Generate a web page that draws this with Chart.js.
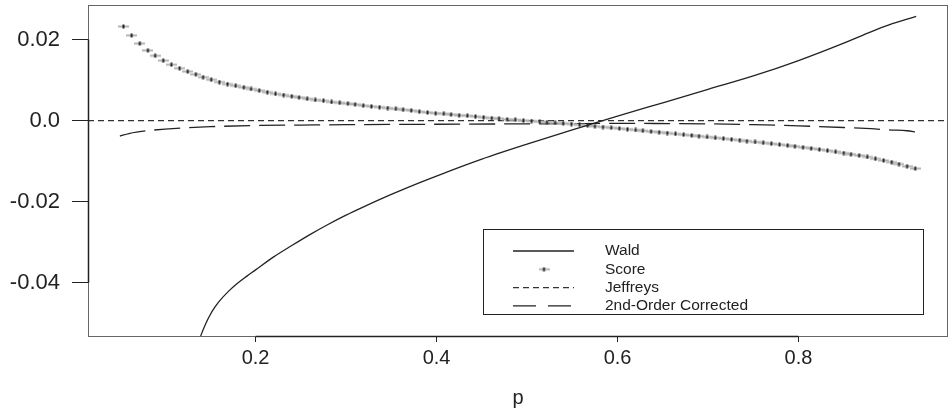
<!DOCTYPE html>
<html>
<head>
<meta charset="utf-8">
<script src="https://cdn.jsdelivr.net/npm/chart.js@4.4.1/dist/chart.umd.min.js"></script>
<style>
  body { margin: 0; background: #fff; overflow: hidden; }
</style>
</head>
<body>
<canvas id="biasChart" width="953" height="410"></canvas>
<script>
// axis range (R style, 4% extension of the data range)
const xMin = 0.0148, xMax = 0.9652;
const yMin = -0.0531, yMax = 0.0285;
const xTicks = [0.2, 0.4, 0.6, 0.8];
const yTicks = [-0.04, -0.02, 0.0, 0.02];
const yTickLabels = ['-0.04', '-0.02', '0.0', '0.02'];

const waldP = [0.13, 0.135, 0.14, 0.145, 0.15, 0.155, 0.16, 0.17, 0.18, 0.19, 0.20, 0.22, 0.24, 0.26, 0.28,
    0.30, 0.32, 0.35, 0.38, 0.41, 0.45, 0.50, 0.55, 0.60, 0.65, 0.70, 0.75, 0.80, 0.85, 0.88, 0.90, 0.93];
const waldBias = [-0.0597, -0.0560, -0.0527, -0.0500, -0.0478, -0.0460, -0.0445, -0.0421, -0.0401,
    -0.0384, -0.0368, -0.0336, -0.0308, -0.0281, -0.0256, -0.0233, -0.0212, -0.0182, -0.0154, -0.0128,
    -0.0095, -0.0058, -0.0023, 0.0011, 0.0044, 0.0077, 0.0110, 0.0148, 0.0191, 0.0219, 0.0236, 0.0257];

const scoreP = [0.054, 0.063, 0.072, 0.081, 0.089, 0.098, 0.107, 0.116, 0.125, 0.134,
    0.142, 0.151, 0.160, 0.169, 0.178, 0.187, 0.195, 0.204, 0.213, 0.222,
    0.231, 0.240, 0.248, 0.257, 0.266, 0.275, 0.284, 0.293, 0.302, 0.310,
    0.319, 0.328, 0.337, 0.346, 0.355, 0.363, 0.372, 0.381, 0.390, 0.399,
    0.408, 0.416, 0.425, 0.434, 0.443, 0.452, 0.461, 0.469, 0.478, 0.487,
    0.496, 0.505, 0.514, 0.522, 0.531, 0.540, 0.549, 0.558, 0.567, 0.575,
    0.584, 0.593, 0.602, 0.611, 0.620, 0.628, 0.637, 0.646, 0.655, 0.664,
    0.673, 0.682, 0.690, 0.699, 0.708, 0.717, 0.726, 0.735, 0.743, 0.752,
    0.761, 0.770, 0.779, 0.788, 0.796, 0.805, 0.814, 0.823, 0.832, 0.841,
    0.850, 0.858, 0.867, 0.876, 0.885, 0.894, 0.903, 0.911, 0.920, 0.929];
const scoreBias = [0.0232, 0.0210, 0.0190, 0.0173, 0.0160, 0.0148, 0.0138, 0.0129, 0.0121, 0.0114,
    0.0107, 0.0101, 0.0095, 0.0090, 0.0086, 0.0082, 0.0078, 0.0074, 0.0070, 0.0066,
    0.0063, 0.0060, 0.0057, 0.0054, 0.0051, 0.0049, 0.0046, 0.0044, 0.0042, 0.0040,
    0.0037, 0.0035, 0.0033, 0.0031, 0.0029, 0.0027, 0.0025, 0.0022, 0.0020, 0.0018,
    0.0017, 0.0015, 0.0013, 0.0012, 0.0010, 0.0008, 0.0006, 0.0005, 0.0003, 0.0002,
    0.00002, -0.00011, -0.00026, -0.0004, -0.00054, -0.00068, -0.00085, -0.00103, -0.00121, -0.0014,
    -0.00158, -0.00176, -0.00194, -0.00213, -0.00231, -0.0025, -0.00269, -0.00288, -0.00307, -0.00326,
    -0.00346, -0.00365, -0.00384, -0.00404, -0.00423, -0.00442, -0.00462, -0.00483, -0.00505, -0.00526,
    -0.00547, -0.00569, -0.0059, -0.00612, -0.00634, -0.00659, -0.00685, -0.00712, -0.00739, -0.00768,
    -0.00799, -0.0083, -0.0086, -0.00895, -0.00939, -0.00982, -0.01026, -0.01072, -0.01127, -0.01181];

const jeffreysP = [xMin, xMax];
const jeffreysBias = [0, 0];

const corrP = [0.05, 0.06, 0.07, 0.08, 0.10, 0.12, 0.15, 0.20, 0.25, 0.30, 0.40, 0.50, 0.60,
    0.70, 0.75, 0.80, 0.85, 0.88, 0.90, 0.92, 0.93];
const corrBias = [-0.0038, -0.0032, -0.0028, -0.0025, -0.0021, -0.0018, -0.0015, -0.0012, -0.0011,
    -0.0010, -0.0009, -0.0008, -0.0007, -0.0008, -0.0010, -0.0013, -0.0017, -0.0020, -0.0023,
    -0.0025, -0.0028];

const toPoints = (xs, ys) => xs.map((x, i) => ({ x: x, y: ys[i] }));

// score marker: grey horizontal bar with a dark tick in the middle
const scoreMark = document.createElement('canvas');
scoreMark.width = 11;
scoreMark.height = 5;
const mctx = scoreMark.getContext('2d');
mctx.fillStyle = '#b4b4b4';
mctx.fillRect(0, 1.5, 11, 2);
mctx.fillStyle = '#222';
mctx.fillRect(4.5, 0.5, 2, 4);

Chart.defaults.font.family = "'Liberation Sans', Arial, Helvetica, sans-serif";
Chart.defaults.color = '#222';

const frameAndLegend = {
    id: 'frameAndLegend',
    afterDraw(chart) {
        const { ctx, chartArea: { left, top, right, bottom }, scales: { x, y } } = chart;
        ctx.save();
        // box
        ctx.strokeStyle = '#666';
        ctx.lineWidth = 1;
        ctx.strokeRect(left + 0.5, top + 0.5, right - left - 1, bottom - top);
        // axis lines spanning the ticks
        ctx.strokeStyle = '#222';
        ctx.lineWidth = 1.5;
        ctx.beginPath();
        ctx.moveTo(left + 0.5, y.getPixelForValue(yTicks[0]));
        ctx.lineTo(left + 0.5, y.getPixelForValue(yTicks[yTicks.length - 1]));
        ctx.moveTo(x.getPixelForValue(xTicks[0]), bottom + 0.5);
        ctx.lineTo(x.getPixelForValue(xTicks[xTicks.length - 1]), bottom + 0.5);
        ctx.stroke();

        // legend box
        const lx = 483, ly = 229, lw = 440, lh = 85;
        ctx.fillStyle = '#fff';
        ctx.fillRect(lx, ly, lw, lh);
        ctx.strokeStyle = '#222';
        ctx.lineWidth = 1;
        ctx.strokeRect(lx + 0.5, ly + 0.5, lw, lh);
        ctx.font = "15.5px 'Liberation Sans', Arial, sans-serif";
        ctx.textBaseline = 'middle';
        ctx.textAlign = 'left';
        chart.data.datasets.forEach((ds, i) => {
            const ry = 251 + i * 18.3;
            if (ds.showLine === false) {
                ctx.drawImage(ds.pointStyle, 544 - ds.pointStyle.width / 2, ry - ds.pointStyle.height / 2);
            } else {
                ctx.strokeStyle = ds.borderColor;
                ctx.lineWidth = ds.borderWidth;
                ctx.setLineDash(ds.legendDash || ds.borderDash || []);
                ctx.beginPath();
                ctx.moveTo(513, ry);
                ctx.lineTo(574, ry);
                ctx.stroke();
                ctx.setLineDash([]);
            }
            ctx.fillStyle = '#222';
            ctx.fillText(ds.label, 605, ry);
        });
        ctx.restore();
    }
};

new Chart(document.getElementById('biasChart'), {
    type: 'line',
    plugins: [frameAndLegend],
    data: {
        datasets: [
            {
                label: 'Wald',
                data: toPoints(waldP, waldBias),
                borderColor: '#222',
                borderWidth: 1.3,
                pointRadius: 0,
                cubicInterpolationMode: 'monotone'
            },
            {
                label: 'Score',
                data: toPoints(scoreP, scoreBias),
                showLine: false,
                pointStyle: scoreMark,
                pointRadius: 3
            },
            {
                label: 'Jeffreys',
                data: toPoints(jeffreysP, jeffreysBias),
                borderColor: '#333',
                borderWidth: 1.3,
                borderDash: [6, 4],
                pointRadius: 0
            },
            {
                label: '2nd-Order Corrected',
                data: toPoints(corrP, corrBias),
                borderColor: '#222',
                borderWidth: 1.3,
                borderDash: [26, 9],
                legendDash: [23, 12],
                pointRadius: 0,
                cubicInterpolationMode: 'monotone'
            }
        ]
    },
    options: {
        responsive: false,
        animation: false,
        layout: {
            padding: { top: 5, right: 0, left: 0, bottom: 0 }
        },
        plugins: {
            legend: { display: false },
            tooltip: { enabled: false }
        },
        scales: {
            x: {
                type: 'linear',
                min: xMin,
                max: xMax,
                afterBuildTicks: scale => { scale.ticks = xTicks.map(v => ({ value: v })); },
                afterFit: scale => {
                    scale.height = 74;
                    scale.paddingLeft = 0;
                    scale.paddingRight = 0;
                },
                ticks: {
                    font: { size: 20 },
                    color: '#222',
                    padding: 4,
                    maxRotation: 0,
                    callback: v => v.toFixed(1)
                },
                grid: {
                    drawOnChartArea: false,
                    drawTicks: true,
                    tickLength: 6,
                    color: '#222'
                },
                border: { display: false },
                title: {
                    display: true,
                    text: 'p',
                    font: { size: 20 },
                    color: '#222',
                    padding: { top: 0, bottom: 0 }
                }
            },
            y: {
                min: yMin,
                max: yMax,
                afterBuildTicks: scale => { scale.ticks = yTicks.map(v => ({ value: v })); },
                afterFit: scale => {
                    scale.width = 88;
                    scale.paddingTop = 0;
                    scale.paddingBottom = 0;
                },
                ticks: {
                    font: { size: 22 },
                    color: '#222',
                    padding: 12,
                    callback: v => yTickLabels[yTicks.indexOf(v)]
                },
                grid: {
                    drawOnChartArea: false,
                    drawTicks: true,
                    tickLength: 16,
                    color: '#222'
                },
                border: { display: false }
            }
        }
    }
});
</script>
</body>
</html>
